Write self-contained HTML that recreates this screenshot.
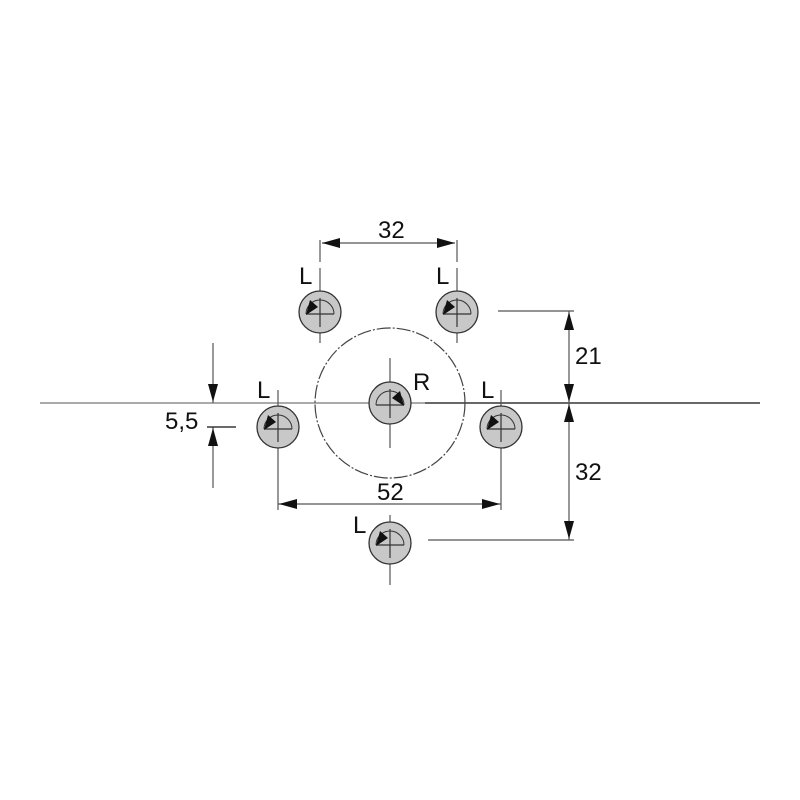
<!DOCTYPE html>
<html><head><style>body{margin:0;background:#fff}svg{display:block}text{font-family:"Liberation Sans",sans-serif;font-size:24px;fill:#111}</style></head>
<body>
<svg width="800" height="800" viewBox="0 0 800 800" xmlns="http://www.w3.org/2000/svg">
<defs>
<g id="hl">
<circle r="21" fill="#c8c8c8" stroke="#333" stroke-width="1.3"/>
<path d="M-14 2 A14 14 0 0 1 14 2" fill="none" stroke="#333" stroke-width="1"/>
<line x1="-14" y1="2" x2="14" y2="2" stroke="#333" stroke-width="1.2"/>
<line x1="0" y1="-14" x2="0" y2="15" stroke="#333" stroke-width="1.2"/>
<polygon points="-14,3 -10,-12 -2,-5" fill="#111"/>
</g>
<g id="hr">
<circle r="21" fill="#c8c8c8" stroke="#333" stroke-width="1.3"/>
<path d="M-14 2 A14 14 0 0 1 14 2" fill="none" stroke="#333" stroke-width="1"/>
<line x1="-14" y1="2" x2="14" y2="2" stroke="#333" stroke-width="1.2"/>
<line x1="0" y1="-14" x2="0" y2="15" stroke="#333" stroke-width="1.2"/>
<polygon points="14,3 10,-12 2,-5" fill="#111"/>
</g>
</defs>
<g stroke="#555" stroke-width="1.2" fill="none">
<line x1="40" y1="403" x2="760" y2="403" stroke="#777"/>
<line x1="425" y1="403" x2="760" y2="403" stroke="#222"/>
<circle cx="390" cy="403" r="75" stroke="#444" stroke-dasharray="14,2,2,2"/>
<line x1="320" y1="268" x2="320" y2="343"/><line x1="457" y1="268" x2="457" y2="343"/>
<line x1="278" y1="390" x2="278" y2="510"/><line x1="501" y1="390" x2="501" y2="510"/>
<line x1="390" y1="358" x2="390" y2="448"/><line x1="390" y1="515" x2="390" y2="585"/>
<line x1="320" y1="240" x2="320" y2="262"/><line x1="457" y1="240" x2="457" y2="262"/>
<line x1="322" y1="243" x2="455" y2="243"/>
<line x1="498" y1="311" x2="574" y2="311"/><line x1="428" y1="540" x2="574" y2="540"/>
<line x1="569" y1="311" x2="569" y2="540"/>
<line x1="278" y1="504" x2="501" y2="504"/>
<line x1="213" y1="343" x2="213" y2="403"/><line x1="213" y1="427" x2="213" y2="488"/>
<line x1="207" y1="427" x2="236" y2="427" stroke="#111"/>
</g>
<g fill="#111">
<polygon points="322,243 340,238 340,248"/><polygon points="455,243 437,238 437,248"/>
<polygon points="569,312 564,330 574,330"/><polygon points="569,402 564,384 574,384"/>
<polygon points="569,404 564,422 574,422"/><polygon points="569,539 564,521 574,521"/>
<polygon points="279,504 297,499 297,509"/><polygon points="500,504 482,499 482,509"/>
<polygon points="213,402 208,384 218,384"/><polygon points="213,428 208,446 218,446"/>
</g>
<use href="#hl" x="320" y="312"/><use href="#hl" x="457" y="312"/>
<use href="#hl" x="278" y="427"/><use href="#hl" x="501" y="427"/>
<use href="#hr" x="390" y="403"/><use href="#hl" x="390" y="543"/>
<text x="378" y="238">32</text>
<text x="575" y="364">21</text>
<text x="575" y="480">32</text>
<text x="377" y="500">52</text>
<text x="165" y="429">5,5</text>
<text x="299" y="284">L</text><text x="436" y="284">L</text>
<text x="257" y="398">L</text><text x="481" y="398">L</text>
<text x="353" y="533">L</text><text x="413" y="390">R</text>
</svg>
</body></html>
